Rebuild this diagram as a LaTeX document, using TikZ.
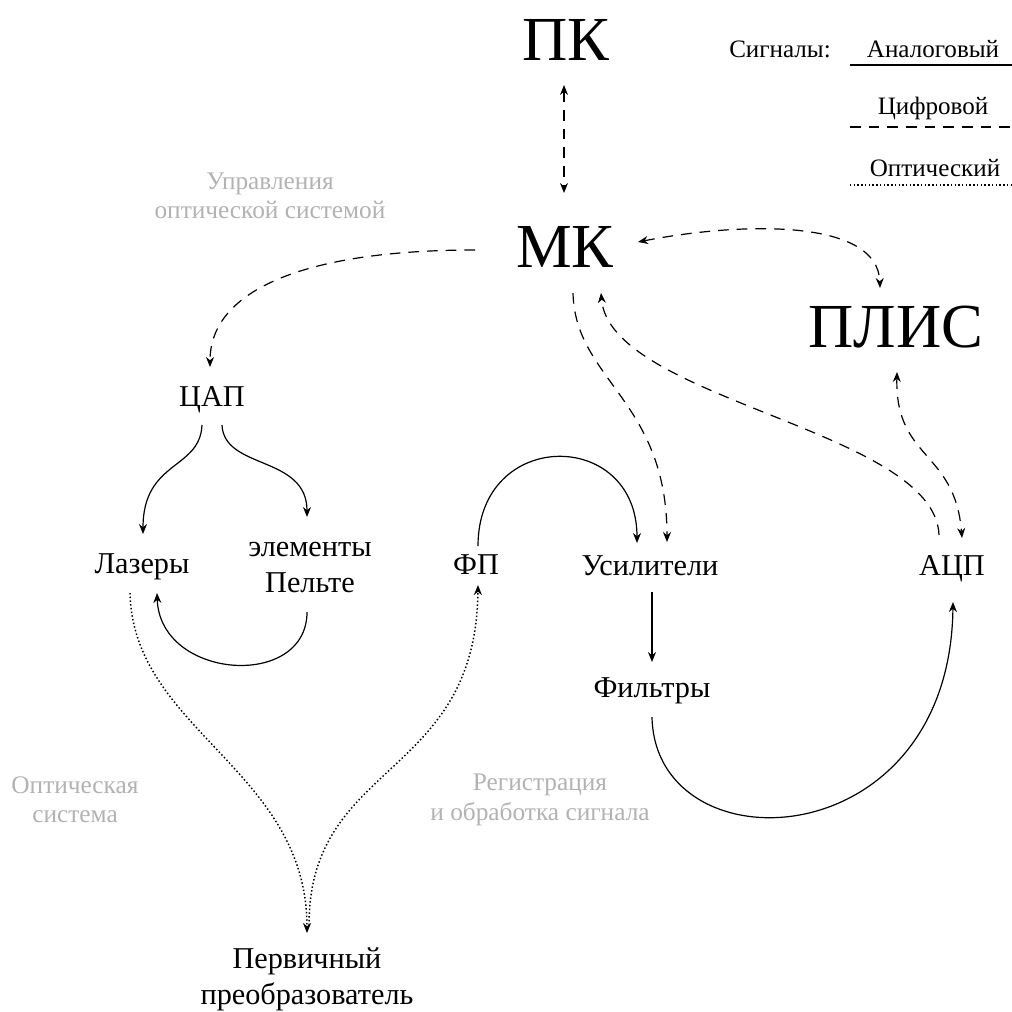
\documentclass[tikz,border=0pt]{standalone}
\usepackage{fontspec}
\setmainfont{Liberation Serif}
\usetikzlibrary{arrows.meta, calc, positioning}

\begin{document}
\begin{tikzpicture}[x=0.75pt, y=-0.75pt,
    big/.style={font=\fontsize{47}{56}\selectfont, anchor=base},
    block/.style={font=\fontsize{22.7}{27}\selectfont, anchor=base, align=center},
    legend/.style={font=\fontsize{18.8}{22}\selectfont, anchor=base},
    note/.style={font=\fontsize{19}{22}\selectfont, text=black!30, align=center},
    analog/.style={line width=0.9pt},
    digital/.style={line width=0.9pt, dash pattern=on 8pt off 6pt},
    optical/.style={line width=1.1pt, dash pattern=on 1.1pt off 1.7pt},
    >={Stealth[length=7.5pt, width=6pt]}]

    \useasboundingbox (0,0) rectangle (1012,1011);

    % blocks
    \node[big] (pc) at (566,60) {ПК};
    \node[big] (mc) at (565,267) {МК};
    \node[big] (fpga) at (896,347) {ПЛИС};
    \node[block] (dac) at (212,406) {ЦАП};
    \node[block] (laser) at (142,573) {Лазеры};
    \node[block] (peltier) at (310,592) {элементы\\Пельте};
    \node[block] (pd) at (476,574) {ФП};
    \node[block] (amp) at (650,575) {Усилители};
    \node[block] (adc) at (952,575) {АЦП};
    \node[block] (filt) at (652,697) {Фильтры};
    \node[block] (sens) at (307,1004) {Первичный\\преобразователь};

    % group captions
    \node[note] (ctl) at (270,196) {Управления\\оптической системой};
    \node[note] (optsys) at (75,800) {Оптическая\\система};
    \node[note] (reg) at (540,800) {Регистрация\\и обработка сигнала};

    % legend
    \node[legend] (sig) at (780,57) {Сигналы:};
    \node[legend] (an) at (933,57) {Аналоговый};
    \node[legend] (dg) at (933,114) {Цифровой};
    \node[legend] (op) at (935,176) {Оптический};
    \draw[analog] ($(an.base)+(-83,8)$) -- ++(165,0);
    \draw[digital] ($(dg.base)+(-83,13)$) -- ++(165,0);
    \draw[optical] ($(op.base)+(-85,9)$) -- ++(167,0);

    % digital links
    \draw[digital, <->] ($(pc.base)+(-2,25)$) -- ($(mc.base)+(-1,-74)$);
    \draw[digital, ->] ($(mc.base)+(-90,-17)$) .. controls (305,250) and (210,290) .. ($(dac.base)+(-2,-39)$);
    \draw[digital, <->] ($(mc.base)+(73,-25)$) .. controls (740,222) and (878,218) .. ($(fpga.base)+(-16,-59)$);
    \draw[digital, ->] ($(mc.base)+(8,26)$) .. controls (575,380) and (667,400) .. ($(amp.base)+(17,-33)$);
    \draw[digital, ->] ($(adc.base)+(-13,-40)$) .. controls (935,430) and (610,400) .. ($(mc.base)+(36,26)$);
    \draw[digital, <->] ($(fpga.base)+(1,25)$) .. controls (895,460) and (955,450) .. ($(adc.base)+(10,-37)$);

    % analog links
    \draw[analog, ->] ($(dac.base)+(-10,19)$) .. controls (200,470) and (143,460) .. ($(laser.base)+(1,-39)$);
    \draw[analog, ->] ($(dac.base)+(10,19)$) .. controls (224,470) and (307,455) .. ($(peltier.base)+(-3,-75)$);
    \draw[analog, ->] ($(peltier.base)+(-3,20)$) .. controls (307,690) and (160,680) .. ($(laser.base)+(15,20)$);
    \draw[analog, ->] ($(pd.base)+(2,-28)$) .. controls (478,428) and (637,428) .. ($(amp.base)+(-13,-32)$);
    \draw[analog, ->] ($(amp.base)+(2,17)$) -- ($(filt.base)+(0,-35)$);
    \draw[analog, ->] ($(filt.base)+(0,20)$) .. controls (655,870) and (950,860) .. ($(adc.base)+(1,27)$);

    % optical links
    \draw[optical, ->] ($(laser.base)+(-12,20)$) .. controls (133,730) and (307,770) .. ($(sens.base)+(0,-71)$);
    \draw[optical, ->] ($(sens.base)+(2,-79)$) .. controls (309,760) and (476,780) .. ($(pd.base)+(2,11)$);
\end{tikzpicture}
\end{document}
